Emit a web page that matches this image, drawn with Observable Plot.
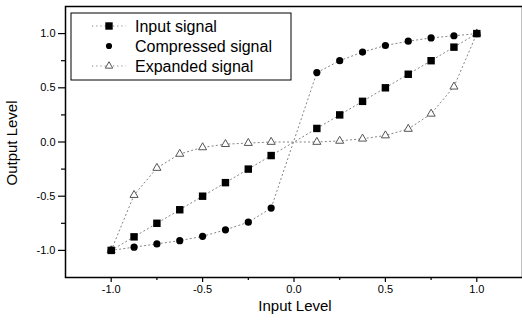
<!DOCTYPE html>
<html>
<head>
<meta charset="utf-8">
<script src="https://cdn.jsdelivr.net/npm/d3@7"></script>
<script src="https://cdn.jsdelivr.net/npm/@observablehq/plot@0.6"></script>
<style>
  html, body { margin: 0; padding: 0; background: #fff; }
  #chart { position: relative; width: 522px; height: 322px; overflow: hidden; }
</style>
</head>
<body>
<div id="chart"></div>
<script>
const xs = [-1, -0.875, -0.75, -0.625, -0.5, -0.375, -0.25, -0.125, 0.125, 0.25, 0.375, 0.5, 0.625, 0.75, 0.875, 1];
const inputSignal = [-1, -0.875, -0.75, -0.625, -0.5, -0.375, -0.25, -0.125, 0.125, 0.25, 0.375, 0.5, 0.625, 0.75, 0.875, 1];
const compressedSignal = [-1, -0.97, -0.94, -0.91, -0.87, -0.81, -0.74, -0.61, 0.64, 0.75, 0.83, 0.89, 0.93, 0.96, 0.98, 1];
const expandedSignal = [-1, -0.49, -0.24, -0.11, -0.05, -0.02, -0.01, 0.0, 0.0, 0.01, 0.03, 0.06, 0.12, 0.26, 0.51, 1];
const majorTicks = [-1, -0.5, 0, 0.5, 1];
const minorTicks = [-0.75, -0.25, 0.25, 0.75];
const seriesNames = ["Input signal", "Compressed signal", "Expanded signal"];

const rows = (vals) => xs.map((x, i) => ({x, y: vals[i]}));
const inp = rows(inputSignal), comp = rows(compressedSignal), exp = rows(expandedSignal);

const lineStyle = {x: "x", y: "y", stroke: "#777", strokeWidth: 0.9, strokeDasharray: "1.2,3"};
const fmt = d => d.toFixed(1);

const plot = Plot.plot({
  width: 522, height: 322,
  marginLeft: 65, marginRight: 0, marginTop: 6, marginBottom: 45,
  style: {fontFamily: "'Liberation Sans', Arial, sans-serif", fontSize: "11px", background: "#fff", color: "#000"},
  x: {domain: [-1.25, 1.25]},
  y: {domain: [-1.25, 1.25]},
  marks: [
    Plot.frame({stroke: "#000", strokeWidth: 1.5}),
    Plot.axisX(majorTicks, {tickSize: 5, tickPadding: 3, tickFormat: fmt, label: null, fontSize: 11, strokeWidth: 1.2}),
    Plot.axisX(minorTicks, {tickSize: 3, text: null, label: null, strokeWidth: 1.2}),
    Plot.axisY(majorTicks, {tickSize: 7, tickPadding: 3, tickFormat: fmt, label: null, fontSize: 11, strokeWidth: 1.2}),
    Plot.axisY(minorTicks, {tickSize: 4, text: null, label: null, strokeWidth: 1.2}),
    Plot.line(exp, lineStyle),
    Plot.line(comp, lineStyle),
    Plot.line(inp, lineStyle),
    Plot.dot(exp, {x: "x", y: "y", symbol: "triangle", r: 3, stroke: "#555", strokeWidth: 1, fill: "#fff"}),
    Plot.dot(comp, {x: "x", y: "y", symbol: "circle", r: 3.6, fill: "#000", stroke: "none"}),
    Plot.dot(inp, {x: "x", y: "y", symbol: "square", r: 4.2, fill: "#000", stroke: "none"})
  ]
});
document.getElementById("chart").appendChild(plot);

const svg = d3.select(plot);
// axis titles
svg.append("text").attr("x", 295).attr("y", 311).attr("text-anchor", "middle")
  .style("font-size", "15px").attr("fill", "#000").text("Input Level");
svg.append("text").attr("transform", "translate(17,143) rotate(-90)").attr("text-anchor", "middle")
  .style("font-size", "15px").attr("fill", "#000").text("Output Level");

// legend
const lg = svg.append("g");
lg.append("rect").attr("x", 71).attr("y", 13).attr("width", 220).attr("height", 67)
  .attr("fill", "#fff").attr("stroke", "#000").attr("stroke-width", 1);
const ly = [26, 46, 66];
const symbols = [d3.symbolSquare, d3.symbolCircle, d3.symbolTriangle];
ly.forEach((y, i) => {
  if (i !== 1) {
    lg.append("line").attr("x1", 92).attr("x2", 126).attr("y1", y).attr("y2", y)
      .attr("stroke", "#777").attr("stroke-width", 0.9).attr("stroke-dasharray", "1.2,3");
  }
  const size = i === 0 ? 55 : i === 1 ? 30 : 24;
  lg.append("path").attr("d", d3.symbol(symbols[i], size)())
    .attr("transform", `translate(109,${y})`)
    .attr("fill", i === 2 ? "#fff" : "#000").attr("stroke", i === 2 ? "#555" : "none");
  lg.append("text").attr("x", 135).attr("y", y).attr("dy", "0.35em")
    .attr("text-anchor", "start").attr("fill", "#000")
    .style("font-size", "16px").text(seriesNames[i]);
});
</script>
</body>
</html>
